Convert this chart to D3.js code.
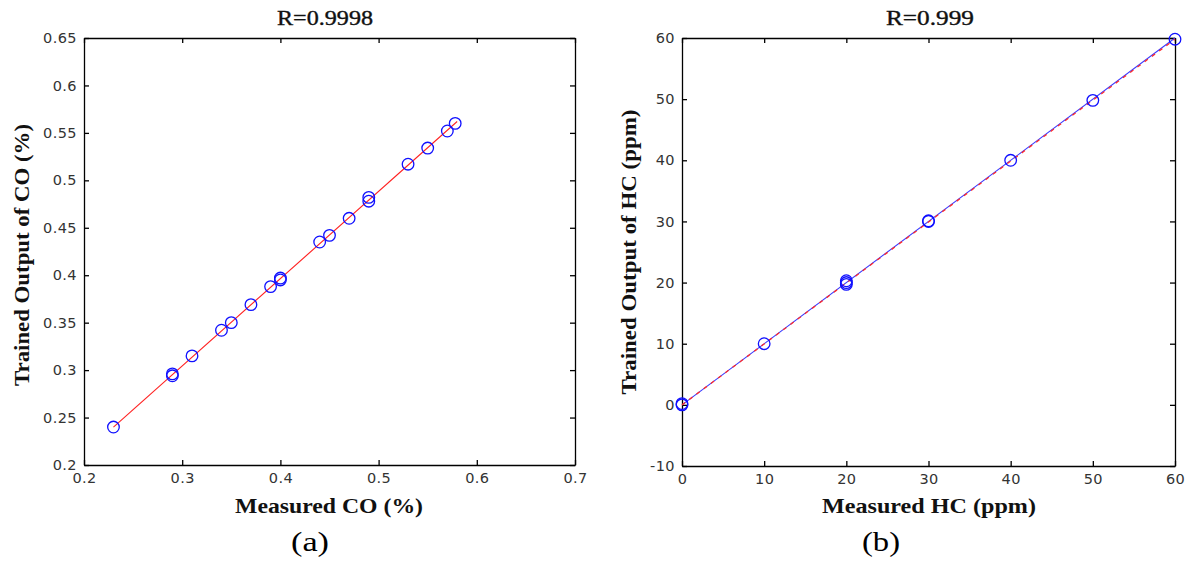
<!DOCTYPE html>
<html><head><meta charset="utf-8">
<script src="https://cdn.jsdelivr.net/npm/d3@7"></script>
<style>body{margin:0;background:#fff}svg{display:block}</style>
</head><body>
<script>
// ---- data: panel (a) CO ----
const coMeasured = [0.23,0.29,0.29,0.31,0.34,0.35,0.37,0.39,0.40,0.40,0.44,0.45,0.47,0.49,0.49,0.53,0.55,0.57,0.578];
const coTrained  = [0.240,0.294,0.296,0.315,0.342,0.350,0.369,0.388,0.395,0.397,0.435,0.442,0.460,0.478,0.482,0.517,0.534,0.552,0.560];
const coFitX = [0.23, 0.58];
const coFitY = [0.240, 0.562];
const coXTicks = [0.2,0.3,0.4,0.5,0.6,0.7];
const coYTicks = [0.2,0.25,0.3,0.35,0.4,0.45,0.5,0.55,0.6,0.65];
// ---- data: panel (b) HC ----
const hcMeasured = [0,0,10,20,20,20,30,30,40,50,60];
const hcTrained  = [0,0.2,10,19.7,20.0,20.3,30,30.1,40,49.8,59.8];
const hcFitX = [0, 60];
const hcFitY = [0, 59.8];
const hcLineX = [0, 60];
const hcLineY = [0, 60];
const hcXTicks = [0,10,20,30,40,50,60];
const hcYTicks = [-10,0,10,20,30,40,50,60];

const W=1192,H=561;
const svg=d3.select("body").append("svg").attr("width",W).attr("height",H);

function panel(o){
  const x=d3.scaleLinear().domain(o.xd).range([o.x0,o.x1]);
  const y=d3.scaleLinear().domain(o.yd).range([o.y1,o.y0]);
  const g=svg.append("g");
  const tickFont='"DejaVu Sans", sans-serif';
  const fmt=d=>String(+d.toFixed(3));
  const ax=g.append("g").attr("transform",`translate(0,${o.y1})`)
    .call(d3.axisBottom(x).tickValues(o.xt).tickSizeInner(-5).tickSizeOuter(0).tickPadding(8).tickFormat(fmt));
  const at=g.append("g").attr("transform",`translate(0,${o.y0})`)
    .call(d3.axisTop(x).tickValues(o.xt).tickSizeInner(-5).tickSizeOuter(0).tickFormat(""));
  const al=g.append("g").attr("transform",`translate(${o.x0},0)`)
    .call(d3.axisLeft(y).tickValues(o.yt).tickSizeInner(-5).tickSizeOuter(0).tickPadding(7).tickFormat(fmt));
  const ar=g.append("g").attr("transform",`translate(${o.x1},0)`)
    .call(d3.axisRight(y).tickValues(o.yt).tickSizeInner(-5).tickSizeOuter(0).tickFormat(""));
  [ax,at,al,ar].forEach(a=>{
    a.selectAll("path").attr("stroke","#000").attr("stroke-width",1.3);
    a.selectAll("line").attr("stroke","#000").attr("stroke-width",1.3);
    a.selectAll("text").attr("font-family",tickFont).attr("font-size",14.5)
      .attr("letter-spacing","0.4px").attr("fill","#333");
  });
  const line=d3.line().x(d=>x(d[0])).y(d=>y(d[1]));
  if(o.bx){
    g.append("path").attr("d",line(d3.zip(o.bx,o.by))).attr("fill","none").attr("stroke","#3a3aff").attr("stroke-width",1.1);
    g.append("path").attr("d",line(d3.zip(o.fx,o.fy))).attr("fill","none").attr("stroke","#ff2a2a").attr("stroke-width",1.3).attr("stroke-dasharray","4,5");
  } else {
    g.append("path").attr("d",line(d3.zip(o.fx,o.fy))).attr("fill","none").attr("stroke","#ff2020").attr("stroke-width",1.1);
  }
  g.selectAll("circle.pt").data(d3.zip(o.px,o.py)).join("circle")
    .attr("cx",d=>x(d[0])).attr("cy",d=>y(d[1])).attr("r",5.8)
    .attr("fill","none").attr("stroke","#1010ff").attr("stroke-width",1.3);
  const serif='"Liberation Serif","Times New Roman",serif';
  g.append("text").attr("x",o.tx).attr("y",25).attr("text-anchor","middle")
    .attr("font-family",serif).attr("font-size",20).attr("fill","#111")
    .attr("stroke","#111").attr("stroke-width",0.35)
    .attr("textLength",o.tl).attr("lengthAdjust","spacingAndGlyphs").text(o.title);
  g.append("text").attr("x",o.xlx).attr("y",513).attr("text-anchor","middle")
    .attr("font-family",serif).attr("font-size",21).attr("font-weight","bold").attr("fill","#111")
    .attr("textLength",o.xll).attr("lengthAdjust","spacingAndGlyphs").text(o.xl);
  g.append("text").attr("transform",`translate(${o.ylx},${o.yly}) rotate(-90)`).attr("text-anchor","middle")
    .attr("font-family",serif).attr("font-size",21).attr("font-weight","bold").attr("fill","#111")
    .attr("textLength",o.yll).attr("lengthAdjust","spacingAndGlyphs").text(o.yl);
  g.append("text").attr("x",o.capx).attr("y",551).attr("text-anchor","middle")
    .attr("font-family",serif).attr("font-size",28).attr("fill","#000")
    .attr("textLength",38).attr("lengthAdjust","spacingAndGlyphs").text(o.cap);
}

panel({xd:[0.2,0.7],yd:[0.2,0.65],x0:84,x1:575,y0:38,y1:465,xt:coXTicks,yt:coYTicks,
  px:coMeasured,py:coTrained,fx:coFitX,fy:coFitY,title:"R=0.9998",tx:325,tl:96,
  xl:"Measured CO (%)",xlx:329,xll:188,yl:"Trained Output of CO (%)",ylx:29,yly:255,yll:262,cap:"(a)",capx:310});
panel({xd:[0,60],yd:[-10,60],x0:682,x1:1175,y0:38,y1:466,xt:hcXTicks,yt:hcYTicks,
  px:hcMeasured,py:hcTrained,fx:hcFitX,fy:hcFitY,bx:hcLineX,by:hcLineY,title:"R=0.999",tx:930,tl:88,
  xl:"Measured HC (ppm)",xlx:929,xll:214,yl:"Trained Output of HC (ppm)",ylx:636,yly:252,yll:285,cap:"(b)",capx:881});
</script>
</body></html>
